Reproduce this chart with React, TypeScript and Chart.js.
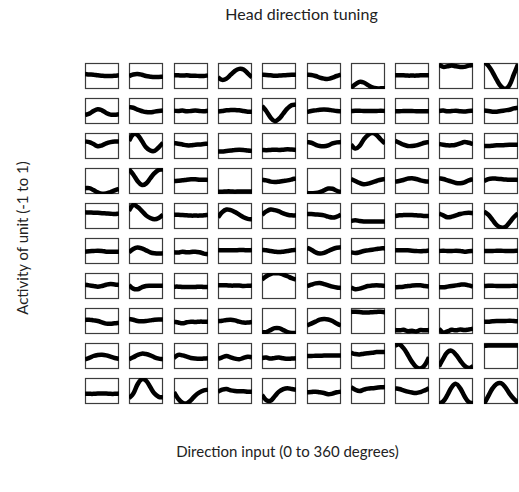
import React, { useEffect, useRef } from "react";
import { Chart, registerables } from "chart.js";

Chart.register(...registerables);

const angles = [0, 45, 90, 135, 180, 225, 270, 315, 360];

const row1 = [
  [0.15, 0.12, 0.1, 0.05, 0.02, 0.0, 0.0, 0.02, 0.05],
  [0.0, 0.12, 0.15, 0.1, 0.0, -0.05, -0.08, -0.07, -0.05],
  [0.05, 0.05, 0.03, 0.05, 0.02, 0.02, 0.0, 0.0, 0.05],
  [-0.1, -0.3, -0.2, 0.1, 0.4, 0.55, 0.5, 0.2, -0.1],
  [0.1, 0.08, 0.05, 0.02, 0.03, 0.05, 0.08, 0.1, 0.1],
  [0.1, 0.08, 0.0, -0.12, -0.2, -0.22, -0.12, 0.0, 0.1],
  [-0.9, -0.65, -0.45, -0.5, -0.7, -0.88, -0.95, -0.95, -0.95],
  [0.05, 0.05, 0.05, 0.03, 0.03, 0.03, 0.05, 0.05, 0.05],
  [0.87, 0.7, 0.75, 0.8, 0.75, 0.7, 0.7, 0.8, 0.85],
  [1.1, 0.8, 0.3, -0.3, -0.8, -1.0, -0.7, 0.1, 0.9],
];
const row2 = [
  [-0.3, -0.2, 0.0, 0.14, 0.05, -0.15, -0.28, -0.28, -0.25],
  [0.3, 0.25, 0.1, 0.0, -0.08, -0.1, -0.05, 0.0, 0.05],
  [0.02, 0.0, 0.03, -0.02, 0.0, 0.03, 0.0, -0.02, 0.02],
  [-0.05, 0.0, 0.05, 0.08, 0.08, 0.05, 0.0, -0.05, -0.05],
  [0.4, 0.0, -0.5, -0.78, -0.6, -0.2, 0.2, 0.45, 0.5],
  [-0.08, 0.0, 0.05, 0.1, 0.12, 0.1, 0.05, 0.0, -0.02],
  [0.0, 0.02, 0.02, 0.0, 0.0, 0.0, 0.0, 0.02, 0.0],
  [-0.02, -0.02, 0.0, 0.0, 0.0, -0.02, -0.02, -0.02, -0.02],
  [0.0, 0.03, -0.02, 0.0, 0.02, -0.02, -0.03, 0.0, 0.02],
  [0.05, 0.0, -0.05, -0.05, 0.0, 0.05, 0.1, 0.2, 0.25],
];
const row3 = [
  [0.35, 0.3, 0.15, -0.02, 0.05, 0.2, 0.3, 0.35, 0.35],
  [0.4, 0.9, 0.85, 0.4, -0.1, -0.35, -0.38, -0.1, 0.25],
  [0.22, 0.18, 0.12, 0.05, 0.05, 0.1, 0.12, 0.15, 0.18],
  [-0.42, -0.42, -0.38, -0.35, -0.3, -0.28, -0.3, -0.35, -0.38],
  [-0.3, -0.32, -0.3, -0.28, -0.3, -0.28, -0.25, -0.27, -0.3],
  [0.3, 0.25, 0.1, 0.0, -0.02, 0.05, 0.2, 0.28, 0.3],
  [0.1, -0.2, 0.0, 0.5, 0.85, 1.0, 0.85, 0.5, 0.2],
  [0.4, 0.25, 0.1, 0.0, 0.0, 0.05, 0.15, 0.25, 0.3],
  [0.15, 0.1, 0.05, 0.05, 0.1, 0.2, 0.3, 0.25, 0.15],
  [0.0, 0.0, 0.02, 0.05, 0.05, 0.08, 0.1, 0.1, 0.1],
];
const row4 = [
  [-0.55, -0.55, -0.7, -0.88, -0.98, -0.95, -0.85, -0.72, -0.6],
  [0.9, 0.5, 0.0, -0.3, -0.2, 0.2, 0.6, 0.85, 0.88],
  [0.0, 0.02, 0.05, 0.1, 0.13, 0.13, 0.1, 0.1, 0.08],
  [-0.82, -0.82, -0.8, -0.8, -0.82, -0.8, -0.8, -0.8, -0.8],
  [0.1, 0.05, -0.05, -0.08, -0.05, 0.0, 0.05, 0.12, 0.2],
  [-0.92, -0.95, -0.92, -0.85, -0.72, -0.58, -0.6, -0.75, -0.85],
  [0.15, 0.0, -0.15, -0.25, -0.2, -0.1, 0.0, 0.1, 0.15],
  [-0.05, 0.0, 0.08, 0.18, 0.22, 0.15, 0.05, -0.02, -0.05],
  [0.22, 0.15, 0.05, -0.05, -0.15, -0.17, -0.1, 0.05, 0.15],
  [0.0, 0.15, 0.2, 0.18, 0.15, 0.12, 0.1, 0.1, 0.08],
];
const row5 = [
  [0.28, 0.27, 0.25, 0.25, 0.22, 0.2, 0.18, 0.15, 0.2],
  [0.4, 0.85, 0.7, 0.4, 0.05, -0.15, -0.25, -0.15, 0.1],
  [0.1, 0.1, 0.07, 0.05, 0.03, 0.03, 0.03, 0.05, 0.08],
  [-0.1, 0.3, 0.5, 0.45, 0.3, 0.1, -0.1, -0.22, -0.25],
  [0.1, 0.35, 0.5, 0.45, 0.35, 0.2, 0.1, 0.05, 0.05],
  [0.15, 0.15, 0.12, 0.1, 0.05, -0.05, -0.12, -0.05, 0.1],
  [-0.38, -0.32, -0.38, -0.42, -0.43, -0.43, -0.43, -0.43, -0.42],
  [0.0, 0.05, 0.07, 0.08, 0.07, 0.05, 0.03, 0.0, 0.0],
  [0.18, 0.05, -0.1, -0.05, 0.05, 0.15, 0.22, 0.25, 0.22],
  [0.35, 0.1, -0.3, -0.7, -0.88, -0.85, -0.5, -0.1, 0.2],
];
const row6 = [
  [-0.05, -0.02, 0.0, 0.02, 0.0, -0.05, -0.05, -0.05, -0.05],
  [-0.1, 0.15, 0.27, 0.2, 0.05, -0.1, -0.18, -0.2, -0.18],
  [-0.1, -0.12, -0.05, -0.1, -0.08, -0.05, -0.1, -0.2, -0.25],
  [0.07, 0.05, 0.05, 0.05, 0.05, 0.07, 0.07, 0.05, 0.07],
  [0.08, 0.05, 0.0, -0.05, -0.08, -0.05, 0.0, 0.05, 0.08],
  [0.25, 0.1, -0.1, -0.2, -0.15, 0.0, 0.15, 0.25, 0.28],
  [-0.1, -0.15, -0.1, 0.0, 0.05, 0.1, 0.15, 0.2, 0.2],
  [0.05, 0.05, 0.05, 0.05, 0.02, 0.0, -0.02, 0.0, 0.03],
  [0.0, 0.02, 0.0, 0.0, 0.02, 0.0, -0.05, -0.02, 0.0],
  [0.0, 0.0, 0.0, 0.02, 0.02, 0.0, 0.0, 0.0, 0.02],
];
const row7 = [
  [0.1, 0.05, 0.0, -0.05, 0.0, 0.1, 0.15, 0.12, 0.08],
  [0.05, -0.2, -0.25, -0.1, 0.0, 0.02, 0.02, 0.02, 0.02],
  [-0.05, -0.05, -0.08, -0.08, -0.08, -0.08, -0.05, -0.08, -0.08],
  [0.05, 0.05, 0.05, 0.03, 0.03, 0.03, 0.0, 0.02, 0.03],
  [0.5, 0.75, 0.92, 1.0, 0.98, 0.88, 0.75, 0.6, 0.5],
  [-0.02, 0.1, 0.2, 0.23, 0.15, 0.05, -0.05, -0.12, -0.15],
  [-0.12, -0.25, -0.2, -0.1, 0.0, 0.03, 0.05, 0.03, 0.0],
  [-0.1, -0.08, -0.05, 0.0, 0.03, 0.05, 0.05, 0.0, -0.05],
  [-0.1, -0.1, -0.05, 0.0, 0.05, 0.1, 0.12, 0.05, -0.05],
  [0.0, 0.02, 0.02, 0.0, 0.0, 0.0, 0.0, 0.02, 0.0],
];
const row8 = [
  [0.08, 0.1, 0.05, 0.0, -0.1, -0.2, -0.22, -0.18, -0.15],
  [0.15, 0.1, 0.0, -0.02, 0.0, 0.05, 0.1, 0.12, 0.12],
  [-0.05, -0.12, -0.18, -0.1, -0.05, -0.08, -0.05, -0.05, -0.05],
  [-0.02, 0.02, 0.08, 0.1, 0.05, -0.05, -0.12, -0.12, -0.08],
  [-0.88, -0.85, -0.7, -0.55, -0.55, -0.7, -0.85, -0.92, -0.92],
  [-0.35, -0.2, -0.05, 0.1, 0.15, 0.12, 0.0, -0.2, -0.35],
  [0.7, 0.72, 0.7, 0.65, 0.65, 0.68, 0.7, 0.72, 0.68],
  [-0.7, -0.72, -0.68, -0.78, -0.75, -0.8, -0.7, -0.72, -0.7],
  [-0.6, -0.9, -0.8, -0.68, -0.72, -0.65, -0.7, -0.65, -0.6],
  [-0.05, -0.05, -0.02, 0.0, 0.0, 0.0, 0.02, 0.0, -0.02],
];
const row9 = [
  [-0.25, -0.15, 0.0, 0.08, 0.1, 0.05, -0.05, -0.15, -0.22],
  [-0.25, -0.1, 0.08, 0.18, 0.15, 0.05, -0.1, -0.2, -0.25],
  [-0.15, 0.08, 0.05, -0.05, -0.15, -0.2, -0.22, -0.2, -0.18],
  [-0.22, -0.1, 0.0, -0.1, -0.2, -0.25, -0.15, -0.05, -0.1],
  [-0.15, -0.12, -0.2, -0.15, -0.12, -0.18, -0.22, -0.2, -0.18],
  [0.0, 0.0, 0.02, 0.02, 0.03, 0.03, 0.03, 0.03, 0.03],
  [0.25, 0.15, 0.12, 0.18, 0.22, 0.25, 0.3, 0.3, 0.3],
  [0.8, 0.9, 0.6, 0.1, -0.45, -0.85, -0.95, -0.7, -0.1],
  [-0.8, -0.2, 0.3, 0.4, 0.1, -0.35, -0.75, -0.92, -0.8],
  [0.77, 0.8, 0.8, 0.8, 0.8, 0.8, 0.8, 0.8, 0.8],
];
const row10 = [
  [-0.22, -0.22, -0.22, -0.2, -0.2, -0.2, -0.22, -0.22, -0.2],
  [-0.55, -0.2, 0.5, 0.9, 0.8, 0.3, -0.2, -0.45, -0.5],
  [-0.1, -0.6, -0.9, -0.95, -0.7, -0.35, -0.1, 0.05, 0.1],
  [-0.05, 0.1, 0.15, 0.05, 0.0, -0.02, -0.02, -0.05, -0.05],
  [-0.3, -0.7, -0.75, -0.4, -0.05, 0.15, 0.22, 0.15, 0.1],
  [-0.1, -0.08, -0.05, -0.1, -0.15, -0.25, -0.2, -0.1, -0.05],
  [0.3, 0.1, 0.0, 0.1, 0.18, 0.22, 0.25, 0.28, 0.3],
  [0.22, 0.15, 0.05, -0.05, -0.12, -0.15, -0.08, 0.05, 0.2],
  [-1.0, -0.8, -0.3, 0.3, 0.55, 0.2, -0.4, -0.85, -0.95],
  [-1.0, -0.4, 0.2, 0.55, 0.6, 0.3, -0.2, -0.6, -0.9],
];

const rows = [row1, row2, row3, row4, row5, row6, row7, row8, row9, row10];

const titleText = "Head direction tuning";
const xLabelText = "Direction input (0 to 360 degrees)";
const yLabelText = "Activity of unit (-1 to 1)";

const PAD = 3;
const BOX_W = 34;
const BOX_H = 26;
const GRID_LEFT = 85;
const GRID_TOP = 63.3;
const COL_STEP = 44.3;
const ROW_STEP = 35;

const boxPlugin = {
  id: "panelBox",
  beforeDatasetsDraw(chart: any) {
    const { ctx, chartArea } = chart;
    ctx.save();
    ctx.strokeStyle = "#3c3c3c";
    ctx.lineWidth = 1.2;
    ctx.strokeRect(
      Math.round(chartArea.left) + 0.5,
      Math.round(chartArea.top) + 0.5,
      Math.round(chartArea.right - chartArea.left) - 1,
      Math.round(chartArea.bottom - chartArea.top) - 1
    );
    ctx.restore();
  },
};

function Panel({ values, left, top }: { values: number[]; left: number; top: number }) {
  const ref = useRef<HTMLCanvasElement | null>(null);
  useEffect(() => {
    if (!ref.current) return;
    const chart = new Chart(ref.current, {
      type: "line",
      data: {
        datasets: [
          {
            data: angles.map((a, i) => ({ x: a, y: values[i] })),
            borderColor: "#000",
            borderWidth: 4.5,
            pointRadius: 0,
            tension: 0.4,
            fill: false,
          },
        ],
      },
      options: {
        animation: false,
        responsive: false,
        maintainAspectRatio: false,
        events: [],
        layout: { padding: PAD },
        plugins: { legend: { display: false }, tooltip: { enabled: false }, title: { display: false } },
        scales: {
          x: { type: "linear", min: 0, max: 360, display: false },
          y: { type: "linear", min: -1, max: 1, display: false },
        },
      },
      plugins: [boxPlugin],
    });
    return () => chart.destroy();
  }, [values]);
  return (
    <canvas
      ref={ref}
      width={BOX_W + 2 * PAD}
      height={BOX_H + 2 * PAD}
      style={{
        position: "absolute",
        left: Math.round(left) - PAD,
        top: Math.round(top) - PAD,
        width: BOX_W + 2 * PAD,
        height: BOX_H + 2 * PAD,
      }}
    />
  );
}

export default function App() {
  const textStyle: React.CSSProperties = {
    position: "absolute",
    fontFamily: "Lato, 'Open Sans', sans-serif",
    fontSize: 15,
    color: "#222",
    whiteSpace: "nowrap",
    lineHeight: "18px",
  };
  return (
    <div style={{ position: "fixed", left: 0, top: 0, width: 519, height: 492, background: "#fff", overflow: "hidden" }}>
      <div style={{ ...textStyle, fontSize: 16, left: 0, width: 603, top: 5, textAlign: "center" }}>{titleText}</div>
      <div style={{ ...textStyle, left: 0, width: 575, top: 442, textAlign: "center" }}>{xLabelText}</div>
      <div
        style={{
          ...textStyle,
          left: 22,
          top: 238,
          transform: "translate(-50%, -50%) rotate(-90deg)",
        }}
      >
        {yLabelText}
      </div>
      {rows.map((row, r) =>
        row.map((values, c) => (
          <Panel key={`${r}-${c}`} values={values} left={GRID_LEFT + c * COL_STEP} top={GRID_TOP + r * ROW_STEP} />
        ))
      )}
    </div>
  );
}
